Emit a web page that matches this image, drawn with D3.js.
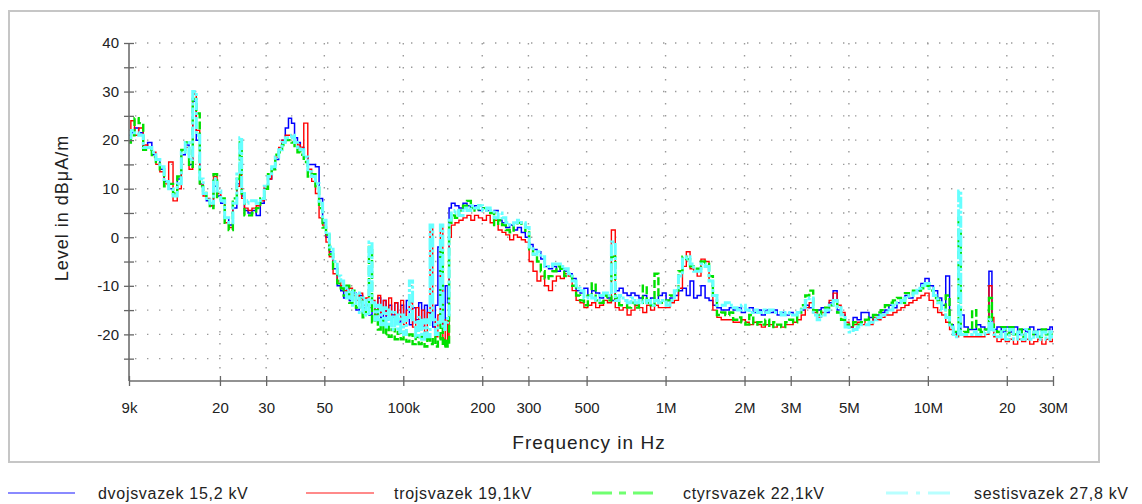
<!DOCTYPE html>
<html>
<head>
<meta charset="utf-8">
<script src="https://cdn.jsdelivr.net/npm/d3@7"></script>
<style>
  body { margin: 0; background: #ffffff; }
  svg text { font-family: "Liberation Sans", Arial, Helvetica, sans-serif; fill: #222; }
</style>
</head>
<body>
<svg id="chart" width="1142" height="504"></svg>
<script>
// Measurement sweep frequencies, kHz
const freqKHz = [
  9.0, 9.3, 9.6, 10.0, 10.4, 10.8, 11.2, 11.6, 12.0, 12.5,
  13.0, 13.5, 14.0, 14.5, 15.0, 15.5, 16.0, 16.5, 17.0, 17.5,
  18.0, 18.6, 19.2, 19.8, 20.5, 21.2, 22.0, 22.8, 23.6, 24.0,
  24.4, 25.2, 26.0, 27.0, 28.0, 29.0, 30.0, 31.0, 32.0, 33.0,
  34.0, 35.0, 36.0, 37.0, 38.0, 39.0, 40.0, 41.0, 42.5, 44.0,
  45.5, 47.0, 48.5, 50.0, 51.5, 53.0, 55.0, 57.0,
  58.5, 60, 61.5, 63, 65, 67, 69, 71, 73, 75,
  77, 79, 81, 83, 85, 87, 89, 91.5, 94, 96.5,
  99, 101.5, 104, 107, 110, 113, 116, 119, 122, 125,
  128, 131, 134, 137, 140, 143, 146, 149,
  150, 155, 160, 166, 172, 178, 184, 190, 197, 204,
  211, 218, 226, 234, 242, 250, 259, 268, 277, 287,
  297, 307, 318, 329, 340, 352, 364, 377, 390, 404,
  418, 433, 448, 464, 480, 497, 514, 532, 551, 570,
  590, 611, 632, 654, 677, 701, 726, 751, 778, 805,
  833, 862, 892, 923, 955, 989, 1020, 1060, 1100, 1140,
  1180, 1220, 1260, 1300,
  1340, 1390, 1440, 1490, 1540, 1600, 1660, 1720, 1780, 1840,
  1910, 1980, 2050, 2120, 2200, 2280, 2360, 2440, 2530, 2620,
  2710, 2810, 2910, 3010, 3120, 3230, 3350, 3470, 3590, 3720,
  3850, 3990, 4130, 4280, 4430, 4590, 4750, 4920, 5100, 5280,
  5470, 5660, 5860, 6070, 6290, 6510, 6740, 6980, 7230, 7490,
  7760, 8040, 8320, 8620, 8930, 9250, 9580, 9920, 10300, 10700,
  11100, 11500, 11900, 12300, 12700, 13000, 13200, 13500, 14000, 14500,
  15000, 15600, 16200, 16800, 17400, 17700, 18000, 18700, 19400, 20100,
  20800, 21600, 22400, 23200, 24000, 24900, 25800, 26700, 27700, 28700,
  29700, 30000
];

// Levels in dBuA/m, one array per bundle configuration
const levelsDvoj = [
  21, 21.5, 22.5, 21.5, 18.5, 19.5, 17, 16, 14, 11.5,
  10, 8.5, 12, 17, 19, 15, 28, 20, 11, 9,
  7.5, 6.5, 10.5, 8.5, 7, 4, 2.5, 6, 11, 12,
  8.5, 5.5, 5, 5.5, 4.5, 7, 10, 12, 14, 16,
  18, 20, 22.5, 24.5, 23.5, 20.5, 19.5, 18.5, 16.5, 15,
  15, 14.5, 8, 3, 0, -3, -6.5, -10,
  -11, -12.5, -10, -13, -11.5, -15, -12, -14.5, -13, -16,
  -13.5, -15.5, -12.5, -16.5, -13, -17, -14, -16, -13.5, -17.5,
  -14, -16.5, -13, -18, -14.5, -17, -13.5, -18.5, -14, -17,
  -15.5, -18.5, -14, -2, -16, -19, -10, -13.5,
  6, 7, 6.5, 6, 7, 6.5, 6, 6.5, 5.5, 6,
  5.5, 5, 5.5, 3.5, 3, 2, 2.5, 1.5, 2, 1,
  0, -1.5, -2.5, -3, -4.5, -6, -6.5, -6, -7, -6.5,
  -7, -7.5, -8.5, -11, -11.5, -10.5, -12, -11, -11.5, -12.5,
  -12, -12.5, -13, -11, -10.5, -11.5, -12, -11.5, -12, -12.5,
  -12, -13, -12.5, -13, -12, -11.5, -13, -12.5, -12, -11,
  -10.5, -12, -9, -12.5,
  -12, -10, -12.5, -13, -14, -14.5, -15, -15, -14.5, -15,
  -14.5, -15.5, -15, -14.5, -15.5, -15, -16, -15, -15.5, -15,
  -16, -15.5, -16, -15.5, -16, -15.5, -15, -14, -14.5, -15,
  -15, -14.5, -15.5, -13.5, -11, -15, -16, -18, -18.5, -16.5,
  -17, -15.5, -15.5, -16.5, -17, -16, -15.5, -15, -14, -14.5,
  -13.5, -13, -12, -12.5, -11.5, -11, -9.5, -8.5, -10, -11,
  -12.5, -14, -8, -18, -19.5, -20, -19.5, -16, -18.5, -19,
  -19, -18, -18.5, -19, -7, -18, -19, -18.5, -19.5, -18.5,
  -19.5, -18.5, -20, -19, -19.5, -18.5, -20, -19, -19.5, -19,
  -18.5, -19
];

const levelsTroj = [
  22, 24, 21, 22.5, 19, 18.5, 17.5, 15, 13.5, 11,
  15.5, 7.5, 10, 18, 18.5, 14, 29.5, 22, 11, 8.5,
  8, 6.5, 12.5, 9, 7.5, 3, 2, 7, 10.5, 13,
  8, 6, 5.5, 6, 6.5, 7.5, 10.5, 12, 14.5, 16.5,
  18.5, 20, 21, 21, 20.5, 19.5, 19, 18.5, 23.5, 14,
  11.5, 9, 4, 2.5, -1, -4, -7.5, -9,
  -10, -11, -12.5, -10.5, -12, -13, -11.5, -14, -12.5, -14.5,
  -13, -16, -12, -15.5, -13, -16, -12.5, -16.5, -13.5, -17,
  -13, -18, -15, -13.5, -18.5, -14.5, -19, -15, -19.5, -15.5,
  2, -17, -20.5, -16, 2.5, -21, -17, -21.5,
  0, 2.5, 3, 3.5, 4, 4.5, 3.5, 4.5, 4, 3.5,
  4.5, 3, 3.5, 1.5, 1, 0.5, -0.5, 0.5, 0, -0.5,
  -1, -5, -7, -9, -8, -10, -11, -9, -8, -8.5,
  -7.5, -8, -11, -13, -13.5, -14.5, -14, -13.5, -14.5, -14,
  -13, -13.5, 1.5, -14.5, -15, -14.5, -16, -15, -14, -14.5,
  -15.5, -14, -15, -14, -14.5, -14.5, -14.5, -13.5, -13, -10.5,
  -6, -3, -6.5, -7,
  -8, -4.5, -5, -9, -15, -16.5, -17, -17, -17, -17.5,
  -17.5, -17, -17.5, -18, -17.5, -18, -18.5, -18, -18, -18.5,
  -18, -18.5, -18, -18, -17.5, -17, -16, -14.5, -13.5, -15.5,
  -16.5, -15.5, -14.5, -13, -11.5, -14, -15.5, -17.5, -18.5, -18,
  -17.5, -18, -17, -18, -16.5, -17, -16.5, -16, -16, -15.5,
  -15, -14.5, -14, -13.5, -13, -12.5, -12, -11.5, -13, -14.5,
  -15.5, -16, -17.5, -19, -20, -20.5, -20, -20, -20.5, -20.5,
  -20.5, -20.5, -20.5, -20, -10, -16.5, -20.5, -21.5, -21, -21.5,
  -21, -22, -21, -21.5, -21, -22, -21.5, -21, -22, -21,
  -21.5, -21
];

const levelsCtyr = [
  19.5, 21, 24.5, 23.5, 18, 18, 16.5, 15.5, 14, 10.5,
  11, 9, 12.5, 18, 19.5, 14.5, 28.5, 25.5, 10.5, 9.5,
  7.5, 6, 13, 8, 8, 3, 1.5, 8, 12, 19.5,
  9, 4.5, 4.5, 5, 6, 8, 10, 13, 14, 17,
  17.5, 19, 20, 20, 19.5, 18.5, 17.5, 17, 15.5, 12.5,
  13, 10.5, 6, 2, 0.5, -3.5, -6.5, -9.5,
  -10.5, -12, -10, -13.5, -11, -14.5, -12.5, -16.5, -14, -2,
  -17.5, -15, -19, -17, -20, -18, -20.5, -19, -21, -19.5,
  -21, -19.5, -21.5, -20, -22, -20.5, -22, -20.5, -22.5, -21,
  -22, -20.5, -22.5, -21, -3, -22.5, -21, -22.5,
  3, 4.5, 4, 5.5, 6.5, 7.5, 6, 5.5, 6.5, 6,
  5.5, 5, 2.5, 3.5, 2.5, 1.5, 1, 2.5, 3, 2.5,
  1, -2.5, -3.5, -5, -7, -8.5, -8, -7, -6, -6.5,
  -8, -8, -10, -12, -13, -14, -12, -9.5, -13, -13.5,
  -12, -13, -4, -12.5, -14, -14, -14.5, -13.5, -14.5, -13.5,
  -10, -13.5, -14, -7.5, -13.5, -13.5, -13, -12, -11, -7,
  -4, -4.5, -6, -6.5,
  -6.5, -5, -5.5, -8, -12, -16, -15.5, -16, -15.5, -17,
  -16.5, -17.5, -18, -16, -18, -17.5, -18, -17, -18.5, -17.5,
  -18, -18.5, -17.5, -17, -17.5, -15.5, -14, -12, -11, -15,
  -16, -15, -14.5, -14, -13, -15.5, -17, -18, -18.5, -17.5,
  -18, -17.5, -17, -16.5, -16, -15.5, -15, -14, -13.5, -13,
  -12.5, -13.5, -11.5, -12, -11, -11, -10.5, -10, -11, -12.5,
  -13, -15, -12, -18, -19.5, -20, 4, -20, -19.5, -19,
  -15, -19, -19.5, -19, -12.5, -18, -19, -19.5, -18.5, -20,
  -18.5, -20, -19, -20.5, -19, -20, -19.5, -20.5, -19, -20,
  -19.5, -20
];

const levelsSesti = [
  20.5, 22, 21.5, 21, 18.5, 18.5, 17.5, 16, 14.5, 11.5,
  10, 8.5, 11, 17.5, 19.5, 16, 30, 21, 12, 9,
  8, 7, 12, 9.5, 7.5, 4, 3, 7, 13, 20.5,
  9, 7, 7.5, 7.5, 7, 8, 10.5, 12.5, 14.5, 16.5,
  18, 19.5, 20.5, 20.5, 21, 19.5, 18.5, 18, 16.5, 13.5,
  12.5, 11, 7, 3.5, 1, -2, -5, -8,
  -9, -10, -12.5, -11, -14, -11.5, -15.5, -12.5, -16, -1,
  -13.5, -17, -14, -18, -14.5, -18.5, -15, -19, -15.5, -19.5,
  -16, -20, -16.5, -9, -17, -20.5, -16.5, -21, -17, -20.5,
  2.5, -17, -20, -17.5, 2.5, -19, -17.5, -16,
  3.5, 5, 5.5, 4.5, 6, 5.5, 6.5, 6, 6.5, 5.5,
  6, 5.5, 4, 5, 4, 3, 2.5, 3, 3.5, 3,
  2, -2, -3.5, -3, -4, -6, -6, -5.5, -5.5, -6,
  -6.5, -7.5, -9, -10.5, -11, -12.5, -12, -12.5, -13, -12,
  -11.5, -12, -1, -13, -12, -13, -13.5, -12.5, -13.5, -13,
  -13.5, -13, -14, -13, -13.5, -13, -14, -13, -11, -8,
  -4.5, -4, -5.5, -7,
  -7, -5.5, -6, -9, -12, -14, -14, -13.5, -14, -14.5,
  -15, -14, -15, -15.5, -15, -15.5, -15, -15.5, -15, -15.5,
  -15.5, -16, -15.5, -16, -16, -15.5, -14.5, -13, -12.5, -16,
  -17, -16, -15, -14, -13, -14.5, -16, -18.5, -19.5, -19,
  -18.5, -18, -18, -17.5, -17, -16.5, -16, -15.5, -15, -14,
  -13.5, -13, -12.5, -12, -11.5, -10.5, -10, -9.5, -10.5, -12,
  -13.5, -15, -16.5, -18.5, -20, -20.5, 9.5, -20, -20, -20,
  -19.5, -20, -20, -19.5, -17, -19, -20, -20.5, -19, -21,
  -19, -21, -19.5, -21, -19, -21, -19.5, -21, -19.5, -21,
  -19.5, -20.5
];

const seriesNames = ["dvojsvazek 15,2 kV", "trojsvazek 19,1kV", "ctyrsvazek 22,1kV", "sestisvazek 27,8 kV"];
const seriesLevels = [levelsDvoj, levelsTroj, levelsCtyr, levelsSesti];

const xTickValues = [9, 20, 30, 50, 100, 200, 300, 500, 1000, 2000, 3000, 5000, 10000, 20000, 30000];
const xTickLabels = ["9k", "20", "30", "50", "100k", "200", "300", "500", "1M", "2M", "3M", "5M", "10M", "20", "30M"];
const yTickValues = [-25, -20, -15, -10, -5, 0, 5, 10, 15, 20, 25, 30, 35, 40];

// ---- drawing ----
const styles = [
  { color: "#0000ff", width: 1.5, dash: null,        legendColor: "#8a8aff", legendDash: null },
  { color: "#ff0000", width: 1.4, dash: null,        legendColor: "#ff8a8a", legendDash: null },
  { color: "#00e000", width: 2.4, dash: "8,3",       legendColor: "#70ff70", legendDash: "20,7,7,7" },
  { color: "#66ffff", width: 3.0, dash: "12,2,3,2",  legendColor: "#b8ffff", legendDash: "22,8,4,8" }
];

const svg = d3.select("#chart");
const plot = { left: 129, right: 1053, top: 43, bottom: 381 };

const x = d3.scaleLog().domain([9, 30000]).range([plot.left, plot.right]);
const y = d3.scaleLinear().domain([-29.6, 40]).range([plot.bottom, plot.top]);

// outer frame
svg.append("rect")
  .attr("x", 9).attr("y", 11).attr("width", 1090).attr("height", 451)
  .attr("fill", "none").attr("stroke", "#c6c6c6").attr("stroke-width", 2);

// dotted grid
const grid = svg.append("g").attr("stroke", "#9a9a9a").attr("stroke-width", 1.4)
  .attr("stroke-dasharray", "1.4,10.6");
grid.selectAll("line.h").data(yTickValues.filter(v => v >= -25)).join("line")
  .attr("class", "h")
  .attr("x1", plot.left + 6).attr("x2", plot.right)
  .attr("y1", d => y(d)).attr("y2", d => y(d));
grid.selectAll("line.v").data(xTickValues.slice(1)).join("line")
  .attr("class", "v")
  .attr("x1", d => x(d)).attr("x2", d => x(d))
  .attr("y1", plot.top).attr("y2", plot.bottom - 4);

// traces
svg.append("clipPath").attr("id", "plotClip").append("rect")
  .attr("x", plot.left).attr("y", plot.top - 2)
  .attr("width", plot.right - plot.left).attr("height", plot.bottom - plot.top + 2);

const line = d3.line()
  .x(d => x(d[0]))
  .y(d => y(d[1]))
  .curve(d3.curveStep);

const traces = svg.append("g").attr("clip-path", "url(#plotClip)");
seriesLevels.forEach((levels, i) => {
  const pts = freqKHz.slice(0, levels.length).map((f, k) => [f, levels[k]]);
  traces.append("path")
    .datum(pts)
    .attr("fill", "none")
    .attr("stroke", styles[i].color)
    .attr("stroke-width", styles[i].width)
    .attr("stroke-dasharray", styles[i].dash)
    .attr("stroke-linejoin", "miter")
    .attr("d", line);
});

// y axis
const yAxis = svg.append("g")
  .attr("transform", `translate(${plot.left},0)`)
  .call(d3.axisLeft(y).tickValues(yTickValues).tickSize(5).tickSizeOuter(0)
    .tickFormat(d => d % 10 === 0 ? String(d) : ""));
yAxis.attr("font-size", null).attr("font-family", null);
yAxis.select(".domain").attr("stroke", "#6e6e6e").attr("stroke-width", 1.6)
  .attr("d", `M0,${plot.bottom}V${plot.top}`);
yAxis.selectAll(".tick line").attr("x1", 5).attr("x2", -5).attr("stroke", "#666").attr("stroke-width", 1.3);
yAxis.selectAll(".tick text").attr("x", -10).attr("fill", "#222").style("font-size", "15px");

// x axis
const xAxis = svg.append("g")
  .attr("transform", `translate(0,${plot.bottom})`)
  .call(d3.axisBottom(x).tickValues(xTickValues).tickSize(5).tickSizeOuter(0)
    .tickFormat((d, i) => xTickLabels[i]));
xAxis.attr("font-size", null).attr("font-family", null);
xAxis.select(".domain").attr("stroke", "#6e6e6e").attr("stroke-width", 1.6)
  .attr("d", `M${plot.left},0H${plot.right}`);
xAxis.selectAll(".tick line").attr("y1", -5).attr("y2", 5).attr("stroke", "#666").attr("stroke-width", 1.3);
xAxis.selectAll(".tick text").attr("y", 21).attr("fill", "#222").style("font-size", "15px");

// axis titles
svg.append("text")
  .attr("x", 589).attr("y", 449)
  .attr("text-anchor", "middle")
  .style("font-size", "19px").style("letter-spacing", "1px")
  .text("Frequency in Hz");

svg.append("text")
  .attr("transform", "translate(68,208) rotate(-90)")
  .attr("text-anchor", "middle")
  .style("font-size", "18px").style("letter-spacing", "1px")
  .text("Level in dBμA/m");

// legend
const legendX = [{ l0: 8, l1: 75, t: 98 }, { l0: 306, l1: 374, t: 394 }, { l0: 592, l1: 660, t: 683 }, { l0: 886, l1: 952, t: 974 }];
const legendY = 493;
const legend = svg.append("g");
seriesNames.forEach((name, i) => {
  legend.append("line")
    .attr("x1", legendX[i].l0).attr("x2", legendX[i].l1)
    .attr("y1", legendY).attr("y2", legendY)
    .attr("stroke", styles[i].legendColor)
    .attr("stroke-width", i >= 2 ? 3 : 2)
    .attr("stroke-dasharray", styles[i].legendDash);
  legend.append("text")
    .attr("x", legendX[i].t).attr("y", legendY + 5.5)
    .style("font-size", "16px").style("letter-spacing", "0.7px")
    .text(name);
});
</script>
</body>
</html>
